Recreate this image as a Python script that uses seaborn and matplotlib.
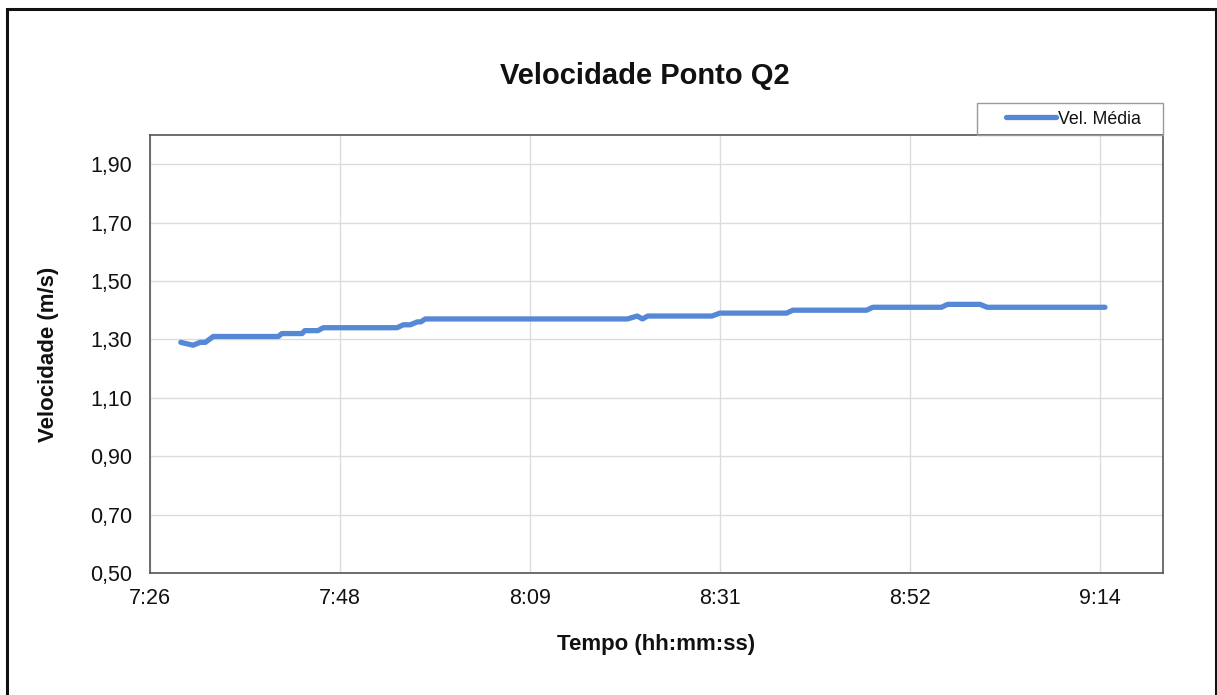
import numpy as np
import pandas as pd
import matplotlib
matplotlib.use("Agg")
import matplotlib.pyplot as plt
import matplotlib.ticker as mticker
from matplotlib.patches import Rectangle
import seaborn as sns

# readings (change points of the averaged velocity)
hora = [
    "7:29:54", "7:31:18", "7:32:06", "7:32:42", "7:33:36", "7:41:00",
    "7:41:24", "7:43:42", "7:44:00", "7:45:30", "7:46:06", "7:54:30",
    "7:55:12", "7:56:00", "7:56:48", "7:57:12", "7:57:42", "8:20:42",
    "8:21:48", "8:22:24", "8:23:00", "8:30:18", "8:31:12", "8:38:48",
    "8:39:30", "8:47:54", "8:48:36", "8:56:24", "8:57:06", "9:00:48",
    "9:01:36", "9:15:00",
]
vel_media = [
    1.29, 1.28, 1.29, 1.29, 1.31, 1.31,
    1.32, 1.32, 1.33, 1.33, 1.34, 1.34,
    1.35, 1.35, 1.36, 1.36, 1.37, 1.37,
    1.38, 1.37, 1.38, 1.38, 1.39, 1.39,
    1.40, 1.40, 1.41, 1.41, 1.42, 1.42,
    1.41, 1.41,
]
x_ticks = ["7:26:24", "7:48:00", "8:09:36", "8:31:12", "8:52:48", "9:14:24"]
x_lim = ["7:26:24", "9:21:36"]
y_ticks = [0.5, 0.7, 0.9, 1.1, 1.3, 1.5, 1.7, 1.9]
y_lim = [0.5, 2.0]

W, H = 1217, 695


def to_min(s):
    return pd.to_timedelta(s).total_seconds() / 60.0


def fmt_hm(v, pos):
    h = int(v // 60)
    m = int(v % 60 + 1e-6)
    return f"{h}:{m:02d}"


df = pd.DataFrame({
    "t": [to_min(h) for h in hora],
    "v": vel_media,
})

sns.set_style("white")
plt.rcParams["font.family"] = ["Liberation Sans", "DejaVu Sans"]
plt.rcParams["text.color"] = "#111111"
plt.rcParams["axes.labelcolor"] = "#111111"
plt.rcParams["xtick.labelcolor"] = "#111111"
plt.rcParams["ytick.labelcolor"] = "#111111"

fig = plt.figure(figsize=(W / 100, H / 100), dpi=100)
ax = fig.add_axes([150 / W, 1 - 573 / H, (1163 - 150) / W, (573 - 135) / H])

sns.lineplot(data=df, x="t", y="v", ax=ax, color="#5589d6", linewidth=3.8,
             label="Vel. Média")

ax.set_xlim(to_min(x_lim[0]), to_min(x_lim[1]))
ax.set_ylim(*y_lim)
ax.set_xticks([to_min(t) for t in x_ticks])
ax.set_yticks(y_ticks)
ax.xaxis.set_major_formatter(mticker.FuncFormatter(fmt_hm))
ax.yaxis.set_major_formatter(
    mticker.FuncFormatter(lambda v, p: f"{v:.2f}".replace(".", ",")))

ax.grid(True, color="#dcdcdc", linewidth=1)
for s in ax.spines.values():
    s.set_color("#555555")
    s.set_linewidth(1.2)
ax.tick_params(axis="both", which="major", labelsize=15.5, length=7,
               width=1, color="#999999", direction="out", pad=6)
ax.tick_params(axis="x", pad=4)

ax.set_xlabel("Tempo (hh:mm:ss)", fontsize=16, fontweight="bold", labelpad=18)
ax.set_ylabel("Velocidade (m/s)", fontsize=16, fontweight="bold", labelpad=22)
fig.text(645 / W, 1 - 76 / H, "Velocidade Ponto Q2", ha="center",
         va="center", fontsize=21, fontweight="bold")

# legend box sits on top of the plot area, right aligned
fig.patches.append(Rectangle((977 / W, 1 - 135 / H), (1163 - 977) / W, 32 / H,
                             transform=fig.transFigure, fill=False,
                             edgecolor="#9a9a9a", linewidth=1))
ax.legend(loc="center left", bbox_to_anchor=(1006 / W, 1 - 119 / H),
          bbox_transform=fig.transFigure, frameon=False, fontsize=12.8,
          handlelength=2.8, borderaxespad=0, borderpad=0,
          handletextpad=0.15)

# outer frame of the figure box
fig.patches.append(Rectangle((7 / W, -0.05), (1216 - 7) / W, 1.05 - 9 / H,
                             transform=fig.transFigure, fill=False,
                             edgecolor="#111111", linewidth=2.2))

fig.savefig("out.png", dpi=100)
